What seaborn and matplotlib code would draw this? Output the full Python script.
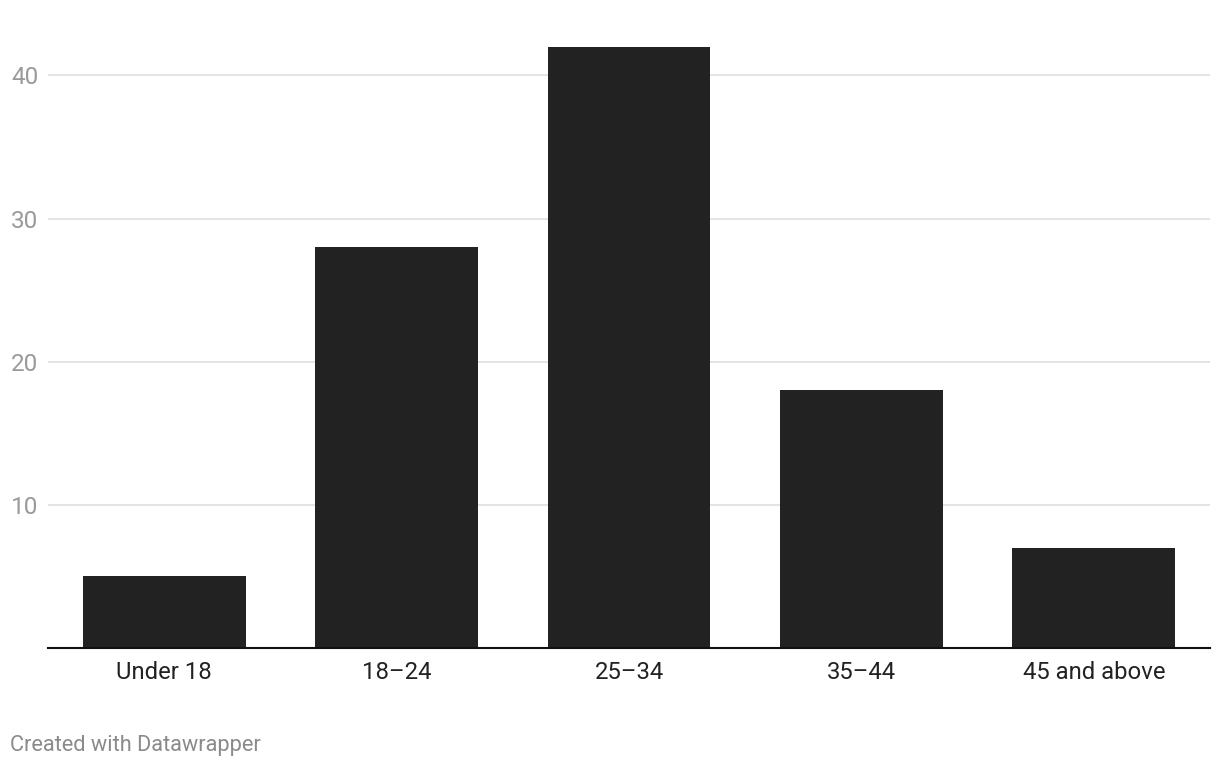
import seaborn as sns
import matplotlib.pyplot as plt
import pandas as pd

# age groups and share values
categories = ["Under 18", "18\u201324", "25\u201334", "35\u201344", "45 and above"]
values = [5, 28, 42, 18, 7]
y_ticks = [10, 20, 30, 40]

sns.set_theme(style="white")
plt.rcParams['font.family'] = ['Roboto', 'DejaVu Sans']

df = pd.DataFrame({"group": categories, "value": values})

fig = plt.figure(figsize=(12.2, 7.68), dpi=100)
ax = fig.add_axes([48 / 1220, 120 / 768, 1162 / 1220, 690 / 768])

sns.barplot(data=df, x="group", y="value", color="#222222", width=0.7,
            saturation=1, linewidth=0, ax=ax, zorder=3)

ax.set_xlim(-0.5, 4.5)
ax.set_ylim(0, 48.2)
ax.set_yticks(y_ticks)
ax.yaxis.grid(True, color="#e4e4e4", linewidth=1.4, zorder=0)
ax.set_xlabel("")
ax.set_ylabel("")

for s in ["top", "right", "left"]:
    ax.spines[s].set_visible(False)
ax.spines["bottom"].set_color("#111111")
ax.spines["bottom"].set_linewidth(1.5)
ax.spines["bottom"].set_zorder(4)

ax.tick_params(axis="y", length=0, pad=26.6, labelsize=17.5, labelcolor="#9a9a9a")
for lbl in ax.get_yticklabels():
    lbl.set_horizontalalignment("left")
ax.tick_params(axis="x", length=0, pad=9.5, labelsize=17.2, labelcolor="#222222")

fig.text(10 / 1220, 1 - 745 / 768, "Created with Datawrapper", fontsize=15.7,
         color="#8a8a8a", ha="left", va="center")

fig.savefig("out.png", dpi=100, facecolor="white")
